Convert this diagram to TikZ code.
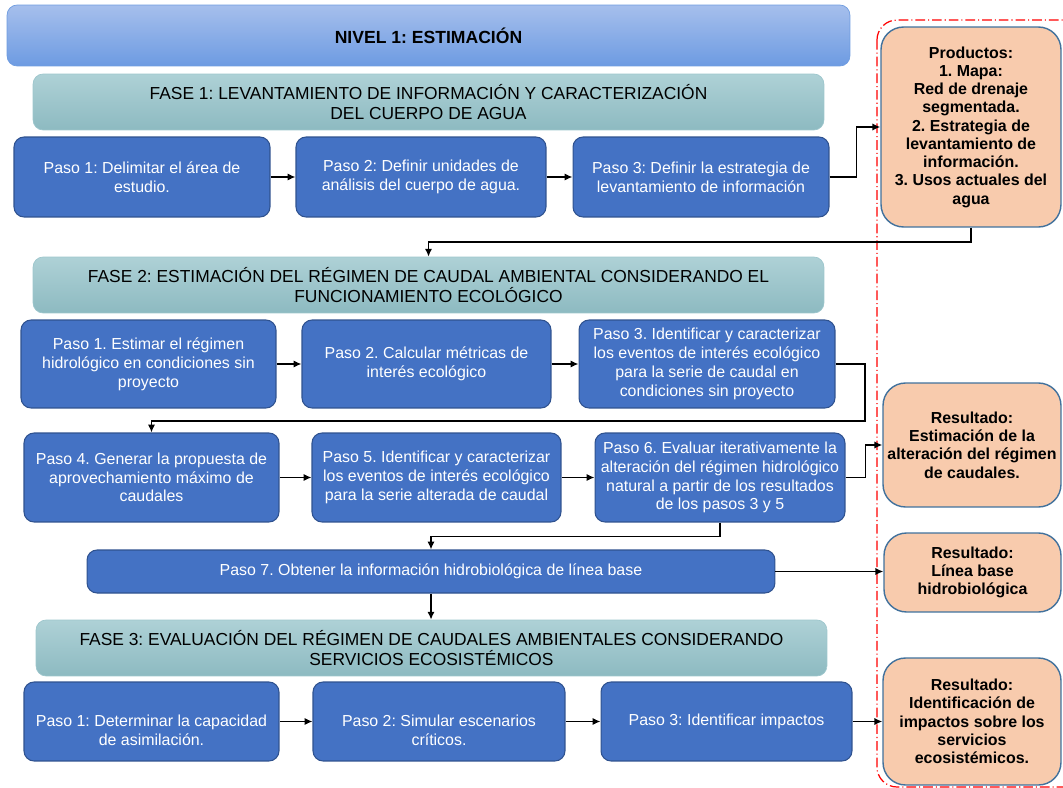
\documentclass[tikz,border=0pt]{standalone}
\usepackage{fontspec}
\setmainfont{Liberation Sans}
\usetikzlibrary{arrows.meta}
\frenchspacing

\definecolor{pasoblue}{HTML}{4472C4}
\definecolor{pasoborder}{HTML}{2F528F}
\definecolor{nivtop}{HTML}{A6BFEC}
\definecolor{nivbottom}{HTML}{6D9BE2}
\definecolor{nivborder}{HTML}{6E9CE0}
\definecolor{fasetop}{HTML}{AED1D6}
\definecolor{fasebottom}{HTML}{8DBAC1}
\definecolor{faseborder}{HTML}{9DC6CC}
\definecolor{resorange}{HTML}{F8CBAD}
\definecolor{resborder}{HTML}{41719C}

\begin{document}
\begin{tikzpicture}
[x=0.02cm,y=-0.02cm,
nivel/.style ={rectangle, draw=nivborder, top color=nivtop, bottom color=nivbottom,
rounded corners=0.2cm, minimum width=16.86cm, minimum height=1.22cm,
font=\bfseries\fontsize{10}{12}\selectfont},
fase/.style ={rectangle, draw=faseborder, top color=fasetop, bottom color=fasebottom,
rounded corners=0.2cm, align=center, minimum width=15.82cm, minimum height=1.12cm,
font=\fontsize{9.9}{11.3}\selectfont},
block/.style ={rectangle, draw=pasoborder, fill=pasoblue, line width=0.6pt,
rounded corners=0.2cm, text=white, align=center, inner sep=1pt,
font=\fontsize{9.07}{10.7}\selectfont},
result/.style ={rectangle, draw=resborder, fill=resorange, line width=0.8pt,
rounded corners=0.45cm, align=center, inner sep=1pt,
font=\bfseries\fontsize{9.07}{10.4}\selectfont},
line/.style ={draw, line width=1.1pt, -{Latex[length=4.5pt,width=4.2pt]}},
redframe/.style ={draw=red, line width=0.7pt, rounded corners=0.4cm,
dash pattern=on 5.5pt off 1.7pt on 0.6pt off 1.7pt}]
\useasboundingbox (0,0) rectangle (1063,788);
\clip (0,0) rectangle (1063,788);
\draw [redframe] (877,20) rectangle (1100,787);
% nivel
\node [nivel] (nivel) at (428.5,35.5) {NIVEL 1: ESTIMACIÓN};
% fase 1
\node [fase] (fase1) at (428.5,102) {FASE 1: LEVANTAMIENTO DE INFORMACIÓN Y CARACTERIZACIÓN\\DEL CUERPO DE AGUA};
\node [block, minimum width=5.12cm, minimum height=1.6cm] (f1p1) at (142,177) {Paso 1: Delimitar el área de\\estudio.};
\node [block, minimum width=5cm, minimum height=1.6cm] (f1p2) at (421,177) {Paso 2: Definir unidades de\\análisis del cuerpo de agua.};
\node [block, minimum width=5.12cm, minimum height=1.6cm] (f1p3) at (701,177) {Paso 3: Definir la estrategia de\\levantamiento de información};
\node [result, minimum width=3.6cm, minimum height=4cm] (prod) at (971,127) {Productos:\\1. Mapa:\\Red de drenaje\\segmentada.\\2. Estrategia de\\levantamiento de\\información.\\3. Usos actuales del\\agua};
% fase 2
\node [fase] (fase2) at (428.5,285) {FASE 2: ESTIMACIÓN DEL RÉGIMEN DE CAUDAL AMBIENTAL CONSIDERANDO EL\\FUNCIONAMIENTO ECOLÓGICO};
\node [block, minimum width=5.1cm, minimum height=1.76cm] (f2p1) at (148.5,364) {Paso 1. Estimar el régimen\\hidrológico en condiciones sin\\proyecto};
\node [block, minimum width=4.98cm, minimum height=1.76cm] (f2p2) at (426.5,364) {Paso 2. Calcular métricas de\\interés ecológico};
\node [block, minimum width=5.12cm, minimum height=1.76cm] (f2p3) at (707,364) {Paso 3. Identificar y caracterizar\\los eventos de interés ecológico\\para la serie de caudal en\\condiciones sin proyecto};
\node [block, minimum width=5.1cm, minimum height=1.78cm] (f2p4) at (151.5,477.5) {Paso 4. Generar la propuesta de\\aprovechamiento máximo de\\caudales};
\node [block, minimum width=4.98cm, minimum height=1.78cm] (f2p5) at (436.5,477.5) {Paso 5. Identificar y caracterizar\\los eventos de interés ecológico\\para la serie alterada de caudal};
\node [block, minimum width=5cm, minimum height=1.78cm] (f2p6) at (720,477.5) {Paso 6. Evaluar iterativamente la\\alteración del régimen hidrológico\\natural a partir de los resultados\\de los pasos 3 y 5};
\node [result, minimum width=3.56cm, minimum height=2.48cm] (res1) at (972,445) {Resultado:\\Estimación de la\\alteración del régimen\\de caudales.};
\node [block, minimum width=13.76cm, minimum height=0.86cm] (f2p7) at (431,571.5) {Paso 7. Obtener la información hidrobiológica de línea base};
\node [result, minimum width=3.54cm, minimum height=1.58cm] (res2) at (972.5,572.5) {Resultado:\\Línea base\\hidrobiológica};
% fase 3
\node [fase] (fase3) at (431.5,648) {FASE 3: EVALUACIÓN DEL RÉGIMEN DE CAUDALES AMBIENTALES CONSIDERANDO\\SERVICIOS ECOSISTÉMICOS};
\node [block, minimum width=5.1cm, minimum height=1.58cm] (f3p1) at (151.5,721.5) {\rule{0pt}{17pt}Paso 1: Determinar la capacidad\\de asimilación.};
\node [block, minimum width=5.04cm, minimum height=1.58cm] (f3p2) at (439,721.5) {\rule{0pt}{17pt}Paso 2: Simular escenarios\\críticos.};
\node [block, minimum width=5.02cm, minimum height=1.58cm] (f3p3) at (726.5,721.5) {Paso 3: Identificar impactos};
\node [result, minimum width=3.56cm, minimum height=2.54cm] (res3) at (972,721.5) {Resultado:\\Identificación de\\impactos sobre los\\servicios\\ecosistémicos.};
% connectors
\coordinate (bend2) at (865,421);
\path [line] (f1p1) -- (f1p2);
\path [line] (f1p2) -- (f1p3);
\path [line] (f1p3.east) -- ++(27,0) |- (prod.west);
\path [line] (prod.south) -- ++(0,14) -| (fase2.north);
\path [line] (f2p1) -- (f2p2);
\path [line] (f2p2) -- (f2p3);
\path [line] (f2p3.east) -| (bend2) -| (f2p4.north);
\path [line] (f2p4) -- (f2p5);
\path [line] (f2p5) -- (f2p6);
\path [line] (f2p6.east) -- ++(20,0) |- (res1.west);
\path [line] (f2p6.south) -- ++(0,14) -| (f2p7.north);
\path [line] (f2p7.east) -- (f2p7.east -| res2.west);
\path [line] (f2p7.south) -- (f2p7.south |- fase3.north);
\path [line] (f3p1) -- (f3p2);
\path [line] (f3p2) -- (f3p3);
\path [line] (f3p3) -- (res3);
\end{tikzpicture}
\end{document}
